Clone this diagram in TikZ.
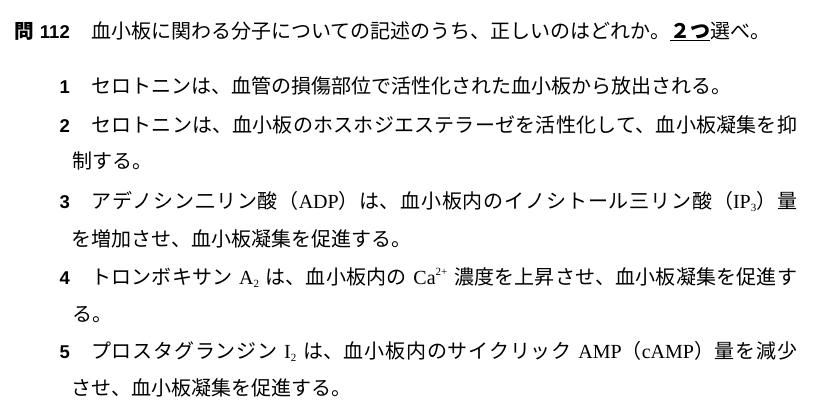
\documentclass[tikz,border=0pt]{standalone}
\usepackage{fontspec}
\setmainfont{Noto Sans CJK JP}
\newfontfamily\latinfont{Liberation Serif}
\newfontfamily\numfont{Liberation Sans}
\XeTeXlinebreaklocale "ja"
\XeTeXlinebreakskip=0pt plus 1fil
\newcommand\latn[1]{{\latinfont #1}}
\newcommand\lsub[1]{\raisebox{-0.35ex}{\fontsize{11}{11}\selectfont #1}}
\newcommand\lsup[1]{\raisebox{0.95ex}{\fontsize{11}{11}\selectfont #1}}
\newcommand\fullline[1]{{\parfillskip=0pt\noindent #1\par}}
\begin{document}
\begin{tikzpicture}[x=1pt,y=-1pt,
	txt/.style={anchor=base west,inner sep=0pt,font=\fontsize{20}{23}\selectfont},
	wide/.style={txt,text width=706pt},
	num/.style={anchor=base east,inner sep=0pt,font=\numfont\bfseries\fontsize{18.5}{22}\selectfont}]
	\useasboundingbox (0,0) rectangle (821,413);
%	title
	\node[txt,font=\bfseries\fontsize{19.6}{23}\selectfont] (mon) at (14,38) {問};
	\node[num] (qno) at (70,38) {112};
	\node[txt] (title) at (91,38) {血小板に関わる分子についての記述のうち、正しいのはどれか。\underline{\bfseries ２つ}選べ。};
%	choices
	\node[num] (n1) at (70,93) {1};
	\node[txt] (t1) at (91,93) {セロトニンは、血管の損傷部位で活性化された血小板から放出される。};
	\node[num] (n2) at (70,132) {2};
	\node[wide] (t2a) at (91,132) {\fullline{セロトニンは、血小板のホスホジエステラーゼを活性化して、血小板凝集を抑}};
	\node[txt] (t2b) at (72,168) {制する。};
	\node[num] (n3) at (70,208) {3};
	\node[wide] (t3a) at (91,208) {\fullline{アデノシン二リン酸（\latn{ADP}）は、血小板内のイノシトール三リン酸（\latn{IP\lsub{3}}）量}};
	\node[txt] (t3b) at (71,246) {を増加させ、血小板凝集を促進する。};
	\node[num] (n4) at (70,284) {4};
	\node[wide] (t4a) at (91,284) {\fullline{トロンボキサン \latn{A\lsub{2}} は、血小板内の \latn{Ca\lsup{2+}} 濃度を上昇させ、血小板凝集を促進す}};
	\node[txt] (t4b) at (72,321) {る。};
	\node[num] (n5) at (70,358) {5};
	\node[wide] (t5a) at (91,358) {\fullline{プロスタグランジン \latn{I\lsub{2}} は、血小板内のサイクリック \latn{AMP}（\latn{cAMP}）量を減少}};
	\node[txt] (t5b) at (71,395) {させ、血小板凝集を促進する。};
\end{tikzpicture}
\end{document}
